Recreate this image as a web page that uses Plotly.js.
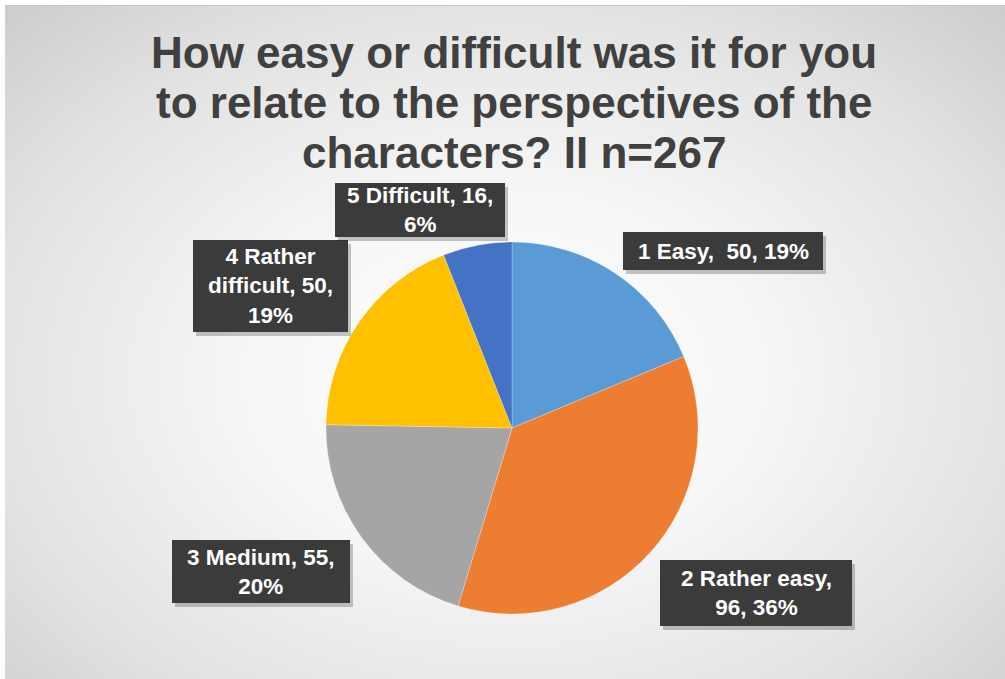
<!DOCTYPE html>
<html>
<head>
<meta charset="utf-8">
<script src="https://cdn.plot.ly/plotly-3.0.1.min.js"></script>
<style>
  html, body { margin: 0; padding: 0; background: #ffffff; }
  #wrap { position: relative; width: 1005px; height: 679px; overflow: hidden; }
  #bg { position: absolute; left: 5px; top: 5px; width: 1000px; height: 674px;
        border-top: 1px solid #c8c8c8;
        background: radial-gradient(ellipse 75% 80% at 50% 55%, #ffffff 0%, #f6f6f6 35%, #e2e2e2 70%, #c9c9c9 100%); }
  #chart { position: absolute; left: 0; top: 0; width: 1005px; height: 679px; }
</style>
</head>
<body>
<div id="wrap">
  <div id="bg"></div>
  <div id="chart"></div>
</div>
<script>
// ---- data ----
const categories = ['1 Easy', '2 Rather easy', '3 Medium', '4 Rather difficult', '5 Difficult'];
const counts = [50, 96, 55, 50, 16];
const percentLabels = ['19%', '36%', '20%', '19%', '6%'];
const labelLines = [
  ['1 Easy,  50, 19%'],
  ['2 Rather easy,', '96, 36%'],
  ['3 Medium, 55,', '20%'],
  ['4 Rather', 'difficult, 50,', '19%'],
  ['5 Difficult, 16,', '6%']
];
const colors = ['#5B9BD5', '#ED7D31', '#A5A5A5', '#FFC000', '#4472C4'];
const titleLines = [
  'How easy or difficult was it for you',
  'to relate to the perspectives of the',
  'characters? II n=267'
];

// ---- layout helpers (pixels) ----
const W = 1005, H = 679;
// label boxes: left, right, top, bottom
const labelBoxes = [
  [623, 823, 232, 270],
  [660, 852, 560, 626],
  [172, 350, 540, 603],
  [193, 348, 240, 332],
  [335, 505, 183, 237]
];
const titleLineY = [53, 102, 153];
const px = x => x / W;
const py = y => 1 - y / H;

const shapes = [];
const annotations = [];
categories.forEach((c, i) => {
  const [x0, x1, y0, y1] = labelBoxes[i];
  shapes.push({type: 'rect', xref: 'paper', yref: 'paper', layer: 'above',
    x0: px(x0 + 3), x1: px(x1 + 3), y0: py(y0 + 4), y1: py(y1 + 4),
    fillcolor: 'rgba(0,0,0,0.22)', line: {width: 0}});
  shapes.push({type: 'rect', xref: 'paper', yref: 'paper', layer: 'above',
    x0: px(x0), x1: px(x1), y0: py(y0), y1: py(y1),
    fillcolor: '#3b3b3b', line: {width: 0}});
  annotations.push({
    xref: 'paper', yref: 'paper', x: px((x0 + x1) / 2), y: py((y0 + y1) / 2),
    xanchor: 'center', yanchor: 'middle', showarrow: false,
    text: labelLines[i].join('<br>'), align: 'center',
    font: {family: 'Liberation Sans, Arial, sans-serif', size: 22.5, color: '#ffffff', weight: 'bold'}
  });
});

titleLines.forEach((t, i) => {
  annotations.push({
    xref: 'paper', yref: 'paper', x: px(514), y: py(titleLineY[i]),
    xanchor: 'center', yanchor: 'middle', showarrow: false, text: t,
    font: {family: 'Liberation Sans, Arial, sans-serif', size: 44, color: '#404040', weight: 'bold'}
  });
});

const r = 186, cx = 512, cy = 428;
const trace = {
  type: 'pie',
  labels: categories,
  values: counts,
  customdata: percentLabels,
  sort: false,
  direction: 'clockwise',
  rotation: 0,
  textinfo: 'none',
  hoverinfo: 'label+value',
  marker: {colors: colors, line: {color: 'rgba(255,255,255,0.5)', width: 0.5}},
  domain: {x: [(cx - r) / W, (cx + r) / W], y: [(H - cy - r) / H, (H - cy + r) / H]},
  showlegend: false
};

const layout = {
  width: W, height: H,
  margin: {l: 0, r: 0, t: 0, b: 0},
  paper_bgcolor: 'rgba(0,0,0,0)',
  plot_bgcolor: 'rgba(0,0,0,0)',
  shapes: shapes,
  annotations: annotations,
  showlegend: false
};

Plotly.newPlot('chart', [trace], layout, {displayModeBar: false, staticPlot: true});
</script>
</body>
</html>
